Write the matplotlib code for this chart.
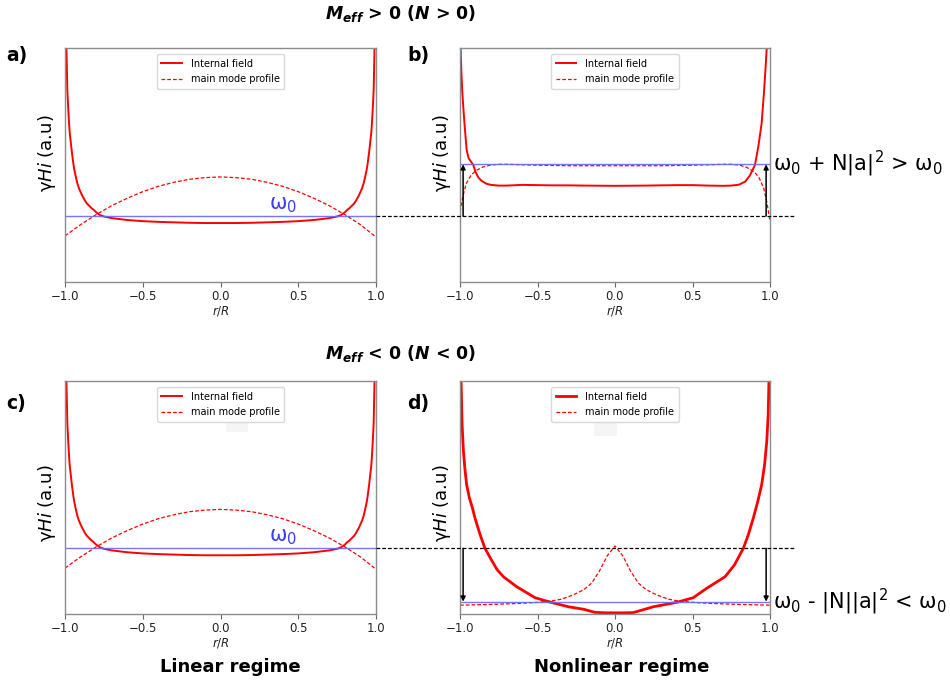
import matplotlib
matplotlib.use("Agg")
import matplotlib.pyplot as plt
from matplotlib.patches import Rectangle

plt.rcParams['font.family'] = ['DejaVu Sans']
plt.rcParams['mathtext.fontset'] = 'dejavusans'

# ---------------- data ----------------
XTICKS = [-1.0, -0.5, 0.0, 0.5, 1.0]

# Linear regime (panels a and c)
R_LIN_FIELD = [-0.997, -0.993, -0.99, -0.985, -0.98, -0.975, -0.97, -0.965, -0.96, -0.955,
               -0.95, -0.945, -0.94, -0.93, -0.92, -0.91, -0.90, -0.89, -0.88, -0.87,
               -0.86, -0.845, -0.83, -0.815, -0.80, -0.775, -0.75, -0.70, -0.60,
               -0.50, -0.40, -0.30, -0.20, -0.10, 0.0, 0.10, 0.20, 0.30, 0.40, 0.50,
               0.60, 0.70, 0.75, 0.775, 0.80, 0.815, 0.83, 0.845, 0.86, 0.87, 0.88, 0.89,
               0.90, 0.91, 0.92, 0.93, 0.94, 0.945, 0.95, 0.955, 0.96, 0.965, 0.97, 0.975,
               0.98, 0.985, 0.99, 0.993, 0.997]
H_LIN_FIELD = [1.45, 1.10, 0.98, 0.82, 0.75, 0.69, 0.64, 0.61, 0.58, 0.55,
               0.525, 0.50, 0.48, 0.448, 0.42, 0.40, 0.385, 0.37, 0.358, 0.346,
               0.336, 0.326, 0.316, 0.308, 0.298, 0.286, 0.280, 0.273, 0.265,
               0.260, 0.257, 0.255, 0.253, 0.252, 0.252, 0.252, 0.253, 0.255, 0.257, 0.260,
               0.265, 0.273, 0.280, 0.286, 0.298, 0.308, 0.316, 0.326, 0.336, 0.346, 0.358, 0.37,
               0.385, 0.40, 0.42, 0.448, 0.48, 0.50, 0.525, 0.55, 0.58, 0.61, 0.64, 0.69,
               0.75, 0.82, 0.98, 1.10, 1.45]
R_LIN_MODE = [-1.0, -0.9, -0.8, -0.7, -0.6, -0.5, -0.4, -0.3, -0.2, -0.1, 0.0,
              0.1, 0.2, 0.3, 0.4, 0.5, 0.6, 0.7, 0.8, 0.9, 1.0]
H_LIN_MODE = [0.197, 0.245, 0.288, 0.326, 0.358, 0.386, 0.409, 0.426, 0.439, 0.446, 0.449,
              0.446, 0.439, 0.426, 0.409, 0.386, 0.358, 0.326, 0.288, 0.245, 0.192]
W0_LIN = 0.282

# Nonlinear regime, N > 0 (panel b)
R_POS_FIELD = [-0.998, -0.994, -0.99, -0.985, -0.979, -0.968, -0.957, -0.945, -0.93, -0.914,
               -0.90, -0.88, -0.86, -0.83, -0.80, -0.75, -0.70, -0.60, -0.50, -0.40, -0.30,
               -0.20, 0.0, 0.20, 0.30, 0.40, 0.50, 0.60, 0.70, 0.75, 0.80, 0.84, 0.87,
               0.903, 0.925, 0.946, 0.96, 0.97, 0.979, 0.99]
H_POS_FIELD = [1.05, 0.95, 0.88, 0.81, 0.749, 0.65, 0.564, 0.53, 0.515, 0.500,
               0.470, 0.445, 0.432, 0.420, 0.415, 0.412, 0.412, 0.415, 0.414, 0.413, 0.413,
               0.412, 0.411, 0.412, 0.413, 0.414, 0.414, 0.412, 0.411, 0.412, 0.416, 0.429, 0.455,
               0.500, 0.580, 0.678, 0.80, 0.90, 1.00, 1.20]
R_POS_MODE = [-1.0, -0.98, -0.96, -0.93, -0.90, -0.85, -0.80, -0.75, -0.70, -0.60, -0.50,
              -0.30, 0.0, 0.30, 0.50, 0.60, 0.70, 0.75, 0.80, 0.85, 0.90, 0.93, 0.96, 0.98, 1.0]
H_POS_MODE = [0.30, 0.37, 0.42, 0.455, 0.475, 0.492, 0.500, 0.503, 0.503, 0.501, 0.499,
              0.497, 0.497, 0.497, 0.499, 0.501, 0.503, 0.503, 0.500, 0.490, 0.470, 0.445, 0.40, 0.34, 0.26]
W0_POS = 0.503

# Nonlinear regime, N < 0 (panel d)
R_NEG_FIELD = [-0.998, -0.993, -0.987, -0.978, -0.968, -0.957, -0.94, -0.92, -0.903, -0.87,
               -0.839, -0.80, -0.76, -0.72, -0.634, -0.516, -0.43, -0.30, -0.20, -0.13,
               -0.05, 0.0, 0.05, 0.118, 0.247, 0.398, 0.505, 0.591, 0.71, 0.77, 0.828,
               0.86, 0.892, 0.92, 0.946, 0.965, 0.979, 0.988, 0.995]
H_NEG_FIELD = [1.30, 1.00, 0.82, 0.70, 0.62, 0.554, 0.50, 0.455, 0.411, 0.34,
               0.282, 0.235, 0.19, 0.160, 0.117, 0.070, 0.053, 0.031, 0.020, 0.007,
               0.005, 0.005, 0.005, 0.006, 0.031, 0.050, 0.070, 0.110, 0.160, 0.21, 0.282,
               0.34, 0.411, 0.48, 0.554, 0.64, 0.74, 0.85, 1.05]
R_NEG_MODE = [-1.0, -0.8, -0.6, -0.5, -0.4, -0.35, -0.3, -0.25, -0.2, -0.15, -0.1, -0.05, 0.0,
              0.05, 0.1, 0.15, 0.2, 0.25, 0.3, 0.35, 0.4, 0.5, 0.6, 0.8, 1.0]
H_NEG_MODE = [0.038, 0.041, 0.046, 0.050, 0.057, 0.063, 0.074, 0.088, 0.105, 0.133, 0.185, 0.250, 0.292,
              0.250, 0.185, 0.133, 0.105, 0.088, 0.074, 0.063, 0.057, 0.050, 0.046, 0.041, 0.038]
W0_NEG = 0.053
W0_REF = 0.282

LEGEND_LABELS = ["Internal field", "main mode profile"]
PANEL_LABELS = ["a)", "b)", "c)", "d)"]

# ---------------- figure ----------------
fig = plt.figure(figsize=(9.5, 6.82), dpi=100)
W, H = 950.0, 682.0

def axes_px(left, top, right, bottom):
    return fig.add_axes([left / W, 1 - bottom / H, (right - left) / W, (bottom - top) / H])

ax_a = axes_px(65, 48, 376, 282)
ax_b = axes_px(460, 48, 770, 282)
ax_c = axes_px(65, 381, 376, 614)
ax_d = axes_px(460, 381, 770, 614)
axes = [ax_a, ax_b, ax_c, ax_d]

RED = "#ff0000"
BLUE = "#6666ff"

def style(ax, ylab_y):
    ax.set_xlim(-1.0, 1.0)
    ax.set_ylim(0, 1)
    ax.set_xticks(XTICKS)
    ax.set_yticks([])
    ax.tick_params(axis='x', labelsize=8.5, color='0.4', length=3.5, width=0.8, pad=2,
                   labelcolor='#222222')
    for s in ax.spines.values():
        s.set_color('0.55')
        s.set_linewidth(1.0)
    ax.set_xlabel(r"$r/R$", fontsize=8.5, labelpad=1, color='#222222')
    ax.set_ylabel(r"γ$Hi$ (a.u)", fontsize=13)
    ax.yaxis.set_label_coords(-0.024, ylab_y)

def curves(ax, rf, hf, rm, hm, lw_field=1.4):
    ax.plot(rf, hf, '-', color=RED, lw=lw_field, label=LEGEND_LABELS[0])
    ax.plot(rm, hm, '--', color=RED, lw=0.9, dashes=(3, 1.6), label=LEGEND_LABELS[1])
    ax.legend(loc='upper center', bbox_to_anchor=(0.5, 0.995), fontsize=7.0,
              framealpha=1.0, edgecolor='0.85', handlelength=2.1, borderpad=0.5,
              labelspacing=0.55, handletextpad=0.9)

style(ax_a, 0.549)
style(ax_b, 0.549)
style(ax_c, 0.474)
style(ax_d, 0.474)

curves(ax_a, R_LIN_FIELD, H_LIN_FIELD, R_LIN_MODE, H_LIN_MODE)
curves(ax_c, R_LIN_FIELD, H_LIN_FIELD, R_LIN_MODE, H_LIN_MODE)
curves(ax_b, R_POS_FIELD, H_POS_FIELD, R_POS_MODE, H_POS_MODE)
curves(ax_d, R_NEG_FIELD, H_NEG_FIELD, R_NEG_MODE, H_NEG_MODE, lw_field=2.0)

for ax, w in [(ax_a, W0_LIN), (ax_c, W0_LIN), (ax_b, W0_POS), (ax_d, W0_NEG)]:
    ax.axhline(w, color=BLUE, lw=1.0, alpha=0.9)

for ax in (ax_a, ax_c):
    ax.text(0.40, W0_LIN + 0.006, r"ω$_0$", color="#3b3bff", fontsize=15,
            ha='center', va='bottom')

# reference dashed lines across to nonlinear panels
for ax in (ax_b, ax_d):
    ax.plot([-1.543, 1.16], [W0_REF, W0_REF], '--', color='k', lw=0.9,
            dashes=(3, 1.6), clip_on=False, zorder=5)

# arrows
for ax, w in [(ax_b, W0_POS), (ax_d, W0_NEG)]:
    for xr in (-0.98, 0.975):
        ax.annotate('', xy=(xr, w), xytext=(xr, W0_REF),
                    arrowprops=dict(arrowstyle='-|>', color='k', lw=1.1,
                                    mutation_scale=7, shrinkA=0, shrinkB=0))

ax_b.text(1.02, W0_POS, r"ω$_0$ + N|a|$^2$ > ω$_0$", fontsize=15,
          ha='left', va='center', clip_on=False)
ax_d.text(1.02, W0_NEG, r"ω$_0$ - |N||a|$^2$ < ω$_0$", fontsize=15,
          ha='left', va='center', clip_on=False)

# faint rectangles below legends (c, d)
for ax, x0, y0 in [(ax_c, 0.035, 0.781), (ax_d, -0.135, 0.764)]:
    ax.add_patch(Rectangle((x0, y0), 0.145, 0.055, facecolor='#f5f5f5', edgecolor='none',
                           zorder=0.5))

# panel labels
for lab, (px, py) in zip(PANEL_LABELS, [(6, 55), (407, 55), (6, 404), (407, 404)]):
    fig.text(px / W, 1 - py / H, lab, fontsize=13.5, fontweight='bold', va='center', ha='left')

# section titles
fig.text(401 / W, 1 - 13 / H, r"$\mathbfit{M}_{\mathbfit{eff}}$ > 0 ($\mathbfit{N}$ > 0)",
         fontsize=12.5, fontweight='bold', ha='center', va='center')
fig.text(401 / W, 1 - 353 / H, r"$\mathbfit{M}_{\mathbfit{eff}}$ < 0 ($\mathbfit{N}$ < 0)",
         fontsize=12.5, fontweight='bold', ha='center', va='center')

fig.text(230 / W, 1 - 667 / H, "Linear regime", fontsize=13, fontweight='bold',
         ha='center', va='center')
fig.text(622 / W, 1 - 667 / H, "Nonlinear regime", fontsize=13, fontweight='bold',
         ha='center', va='center')

fig.savefig("out.png", dpi=100)
